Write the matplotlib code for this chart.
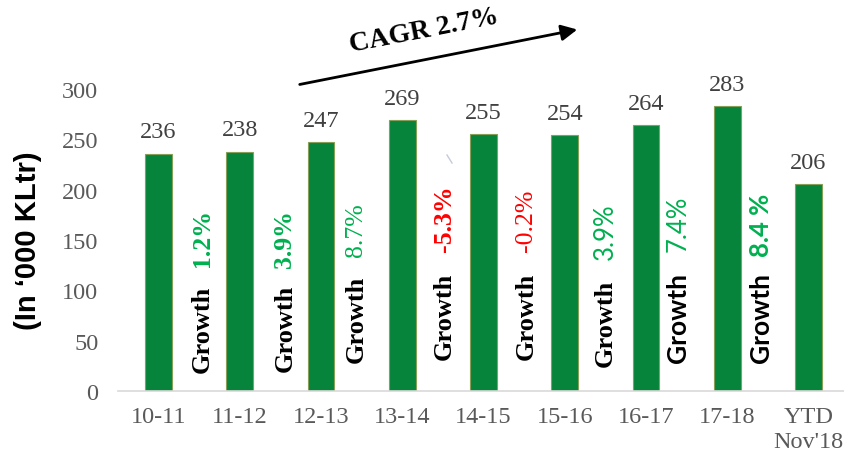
import matplotlib
matplotlib.use("Agg")
import matplotlib.pyplot as plt
from matplotlib.lines import Line2D

categories = ["10-11", "11-12", "12-13", "13-14", "14-15", "15-16", "16-17", "17-18", "YTD\nNov'18"]
values = [236, 238, 247, 269, 255, 254, 264, 283, 206]
growth_labels = ["1.2%", "3.9%", "8.7%", "-5.3%", "-0.2%", "3.9%", "7.4%", "8.4 %"]
cagr_label = "CAGR 2.7%"

# layout / style for growth annotations
g_x = [0.536, 1.557, 2.43, 3.516, 4.526, 5.50, 6.40, 7.42]
g_word_y = [19, 20, 29, 32, 32, 25, 29, 29]
g_pct_y = [124, 123, 134, 139, 139, 131, 139, 134]
g_word_font = ["serif"] * 6 + ["sans"] * 2
g_pct_style = [("serif", "bold"), ("serif", "bold"), ("serif", "normal"),
               ("serif", "bold"), ("serif", "normal"), ("sans", "normal"),
               ("sans", "normal"), ("sans", "bold")]

GREEN = "#00B050"
RED = "#FF0000"
SERIF = "Liberation Serif"
SANS = "Lato"

fig = plt.figure(figsize=(8.45, 4.6), dpi=100)
ax = fig.add_axes([0.1395, 0.148, 0.8605, 0.656])

x = list(range(len(categories)))
ax.bar(x, values, width=0.33, color="#07843C", edgecolor="#86a05a", linewidth=0.8, zorder=2)
ax.set_xlim(-0.5, 8.45)
ax.set_ylim(0, 300)
ax.set_yticks([0, 50, 100, 150, 200, 250, 300])
ax.set_xticks(x)
ax.set_xticklabels(categories, fontfamily=SERIF, fontsize=17.5, color="#595959", linespacing=1.25)
ax.tick_params(axis="y", labelsize=17.5, labelcolor="#595959", length=0, pad=14)
ax.tick_params(axis="x", length=0, pad=11)
for lab in ax.get_yticklabels():
    lab.set_fontfamily(SERIF)
for s in ["top", "right", "left"]:
    ax.spines[s].set_visible(False)
ax.spines["bottom"].set_color("#d9d9d9")
ax.spines["bottom"].set_linewidth(1.2)

for xi, v in zip(x, values):
    ax.text(xi, v + 11, str(v), ha="center", va="bottom", fontsize=17.5,
            fontfamily=SERIF, color="#404040")

for i, lab in enumerate(growth_labels):
    wf = SERIF if g_word_font[i] == "serif" else SANS
    ax.text(g_x[i], g_word_y[i], "Growth", rotation=90, ha="center", va="bottom",
            fontsize=19, fontweight="bold", fontfamily=wf, color="black")
    fam, wt = g_pct_style[i]
    pf = SERIF if fam == "serif" else SANS
    col = RED if lab.startswith("-") else GREEN
    ax.text(g_x[i], g_pct_y[i], lab, rotation=90, ha="center", va="bottom",
            fontsize=18.5, fontweight=wt, fontfamily=pf, color=col)

ax.set_ylabel("(In \u2018000 KLtr)", fontsize=21, fontweight="bold",
              fontfamily="Liberation Sans")
ax.yaxis.set_label_coords(-0.105, 0.5)

# CAGR arrow (figure coords)
fig.add_artist(matplotlib.patches.FancyArrowPatch(
    (297 / 845, 1 - 86 / 460), (580 / 845, 1 - 30 / 460),
    transform=fig.transFigure, arrowstyle="-|>", mutation_scale=24,
    color="black", linewidth=2))
fig.text(424 / 845, 1 - 31 / 460, cagr_label, rotation=11, ha="center", va="center",
         fontsize=20, fontweight="bold", fontfamily=SERIF)

# small stray stroke visible in the reference
fig.add_artist(Line2D([447 / 845, 452 / 845], [1 - 156 / 460, 1 - 164 / 460],
                      transform=fig.transFigure, color="#c5c9dc", linewidth=1))

fig.savefig("out.png", dpi=100)
